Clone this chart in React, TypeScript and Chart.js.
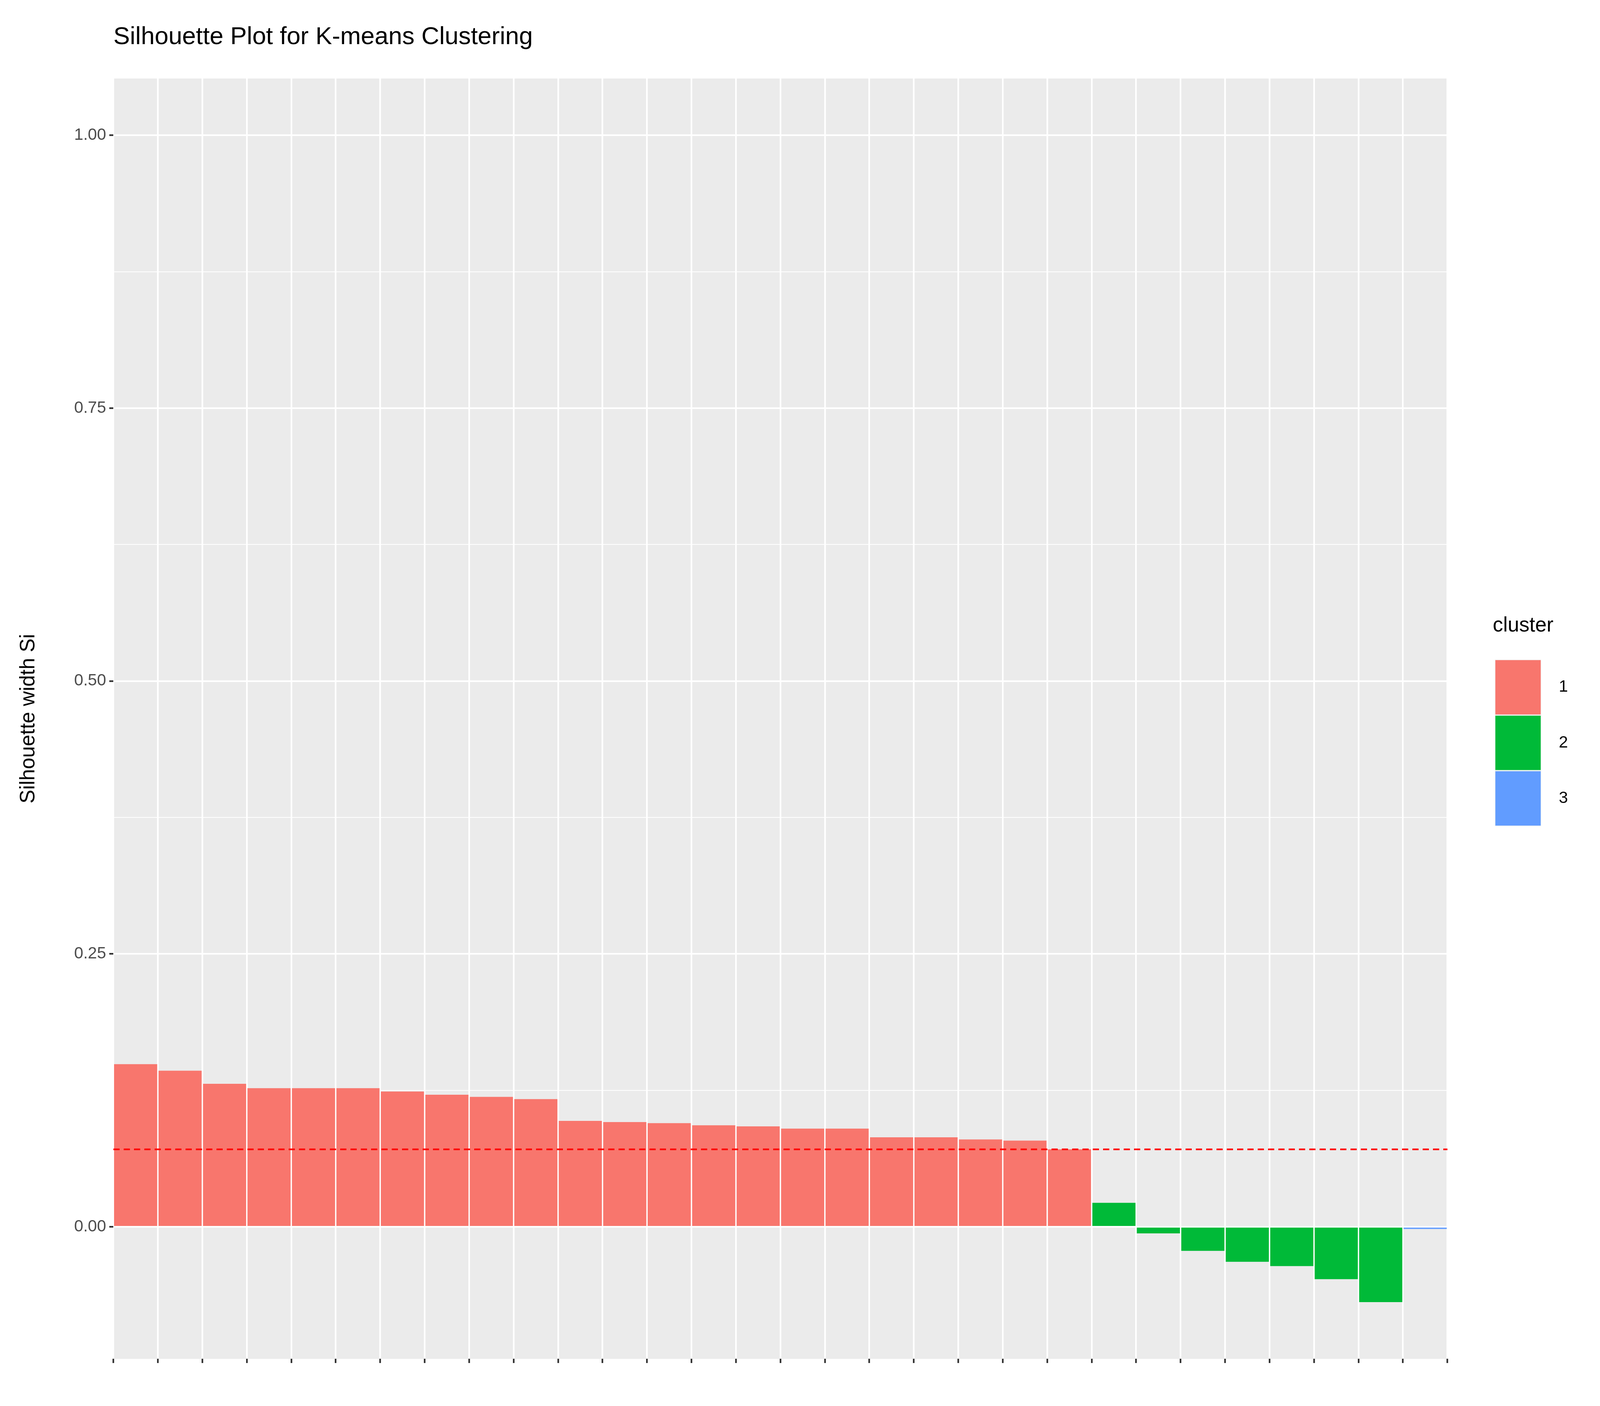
import React, { useEffect, useRef } from "react";
import { Chart, registerables } from "chart.js";
Chart.register(...registerables);

const categories: string[] = Array.from({ length: 30 }, (_, i) => `obs${i + 1}`);
const silValues: number[] = [
  0.149, 0.143, 0.131, 0.127, 0.127, 0.127, 0.124, 0.121, 0.119, 0.117, 0.097,
  0.096, 0.095, 0.093, 0.092, 0.090, 0.090, 0.082, 0.082, 0.080, 0.079, 0.071,
  0.022, -0.006, -0.022, -0.032, -0.036, -0.048, -0.069, -0.002,
];
const clusters: number[] = [
  1, 1, 1, 1, 1, 1, 1, 1, 1, 1, 1, 1, 1, 1, 1, 1, 1, 1, 1, 1, 1, 1,
  2, 2, 2, 2, 2, 2, 2, 3,
];
const clusterNames: string[] = ["1", "2", "3"];
const clusterColors: string[] = ["#F8766D", "#00BA38", "#619CFF"];
const meanValue = 0.071;
const yTicks: number[] = [0, 0.125, 0.25, 0.375, 0.5, 0.625, 0.75, 0.875, 1.0];

export default function App() {
  const ref = useRef<HTMLCanvasElement>(null);
  useEffect(() => {
    document.body.style.margin = "0";
    document.body.style.overflow = "hidden";
    const W = window.innerWidth;
    const H = window.innerHeight;
    const kx = W / 1552;
    const ky = H / 1164;
    const k = Math.min(kx, ky);
    const canvas = ref.current!;
    canvas.style.width = W + "px";
    canvas.style.height = H + "px";
    const font = "Liberation Sans, Arial, sans-serif";
    const isMajor = (v: number) => Math.round(v * 1000) % 250 === 0;
    const plugin = {
      id: "deco",
      beforeDraw(chart: any) {
        const { ctx, chartArea: a } = chart;
        ctx.save();
        ctx.fillStyle = "#EBEBEB";
        ctx.fillRect(a.left, a.top, a.right - a.left, a.bottom - a.top);
        ctx.restore();
      },
      afterDatasetsDraw(chart: any) {
        const { ctx, chartArea: a } = chart;
        const y = chart.scales.y.getPixelForValue(meanValue);
        ctx.save();
        ctx.strokeStyle = "#FF0000";
        ctx.lineWidth = 1.6 * k;
        ctx.setLineDash([6 * k, 4 * k]);
        ctx.beginPath();
        ctx.moveTo(a.left, y);
        ctx.lineTo(a.right, y);
        ctx.stroke();
        ctx.restore();
      },
      afterDraw(chart: any) {
        const { ctx } = chart;
        ctx.save();
        ctx.fillStyle = "#000";
        ctx.textBaseline = "middle";
        ctx.font = `${24 * k}px ${font}`;
        ctx.fillText("Silhouette Plot for K-means Clustering", 110 * kx, 31 * ky);
        ctx.font = `${20 * k}px ${font}`;
        ctx.fillText("cluster", 1448 * kx, 518 * ky);
        ctx.save();
        ctx.translate(28 * kx, 595 * ky);
        ctx.rotate(-Math.PI / 2);
        ctx.textAlign = "center";
        ctx.fillText("Silhouette width Si", 0, 0);
        ctx.restore();
        ctx.font = `${16 * k}px ${font}`;
        const tops = [546, 592, 638];
        clusterNames.forEach((n, i) => {
          ctx.fillStyle = "#F2F2F2";
          ctx.fillRect(1450 * kx, tops[i] * ky, 45 * kx, 46 * ky);
          ctx.fillStyle = clusterColors[i];
          ctx.fillRect(1450.5 * kx, (tops[i] + 0.5) * ky, 44 * kx, 45 * ky);
          ctx.fillStyle = "#000";
          ctx.fillText(n, 1512 * kx, (tops[i] + 23) * ky);
        });
        ctx.restore();
      },
    };
    const chart = new Chart(canvas, {
      type: "bar",
      data: {
        labels: categories,
        datasets: [
          {
            data: silValues,
            backgroundColor: clusters.map((c) => clusterColors[c - 1]),
            barPercentage: 1,
            categoryPercentage: 0.97,
          },
        ],
      },
      options: {
        animation: false,
        responsive: false,
        layout: { padding: { top: 65 * ky, right: W - 1404 * kx, left: 0, bottom: 0 } },
        plugins: { legend: { display: false }, tooltip: { enabled: false } },
        scales: {
          x: {
            afterFit: (s: any) => { s.height = H - 1125 * ky; },
            border: { display: false },
            grid: { color: "#FFFFFF", lineWidth: 1.6 * k, tickLength: 4 * k, tickColor: "#333333" },
            ticks: { display: false },
          },
          y: {
            min: -0.121,
            max: 1.052,
            afterFit: (s: any) => { s.width = 110 * kx; },
            afterBuildTicks: (s: any) => { s.ticks = yTicks.map((v) => ({ value: v })); },
            border: { display: false },
            grid: {
              color: "#FFFFFF",
              lineWidth: (c: any) => (isMajor(c.tick.value) ? 1.6 * k : 0.8 * k),
              tickLength: 4 * k,
              tickColor: (c: any) => (isMajor(c.tick.value) ? "#333333" : "rgba(0,0,0,0)"),
            },
            ticks: {
              autoSkip: false,
              color: "#4D4D4D",
              font: { size: 16 * k, family: font },
              padding: 3 * k,
              callback: (v: any) => (isMajor(Number(v)) ? Number(v).toFixed(2) : ""),
            },
          },
        },
      },
      plugins: [plugin],
    });
    chart.resize(W, H);
    return () => chart.destroy();
  }, []);
  return (
    <div style={{ position: "fixed", left: 0, top: 0, width: "100vw", height: "100vh", background: "#fff", overflow: "hidden" }}>
      <canvas ref={ref} />
    </div>
  );
}
